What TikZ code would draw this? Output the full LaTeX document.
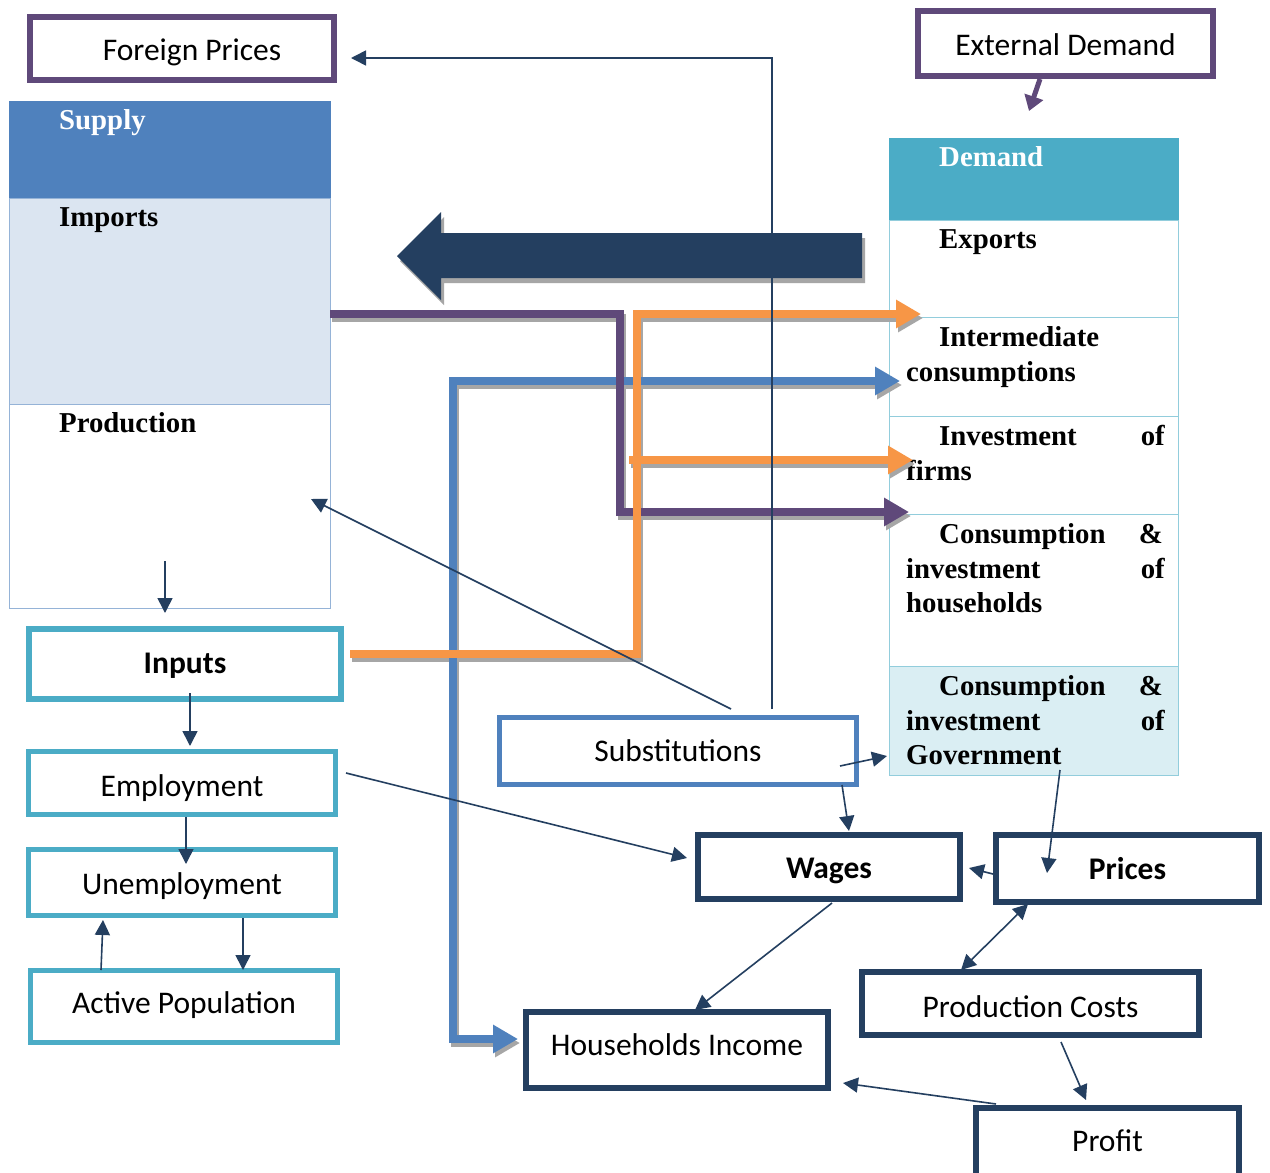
\documentclass[tikz,border=0pt]{standalone}
\usepackage{fontspec}
\setmainfont{Carlito}
\newfontfamily\tnr{Liberation Serif}
\usetikzlibrary{arrows.meta}
\definecolor{purp}{HTML}{5F497A}
\definecolor{supblue}{HTML}{4F81BD}
\definecolor{impfill}{HTML}{DBE5F1}
\definecolor{supline}{HTML}{95B3D7}
\definecolor{demhead}{HTML}{4BACC6}
\definecolor{demline}{HTML}{92CDDC}
\definecolor{govfill}{HTML}{DAEEF3}
\definecolor{teal}{HTML}{4BACC6}
\definecolor{navy}{HTML}{243F60}
\definecolor{orng}{HTML}{F79646}
\definecolor{shad}{HTML}{A6A6A6}
\newcommand\bsl[2]{\raisebox{-#1pt}[0pt][0pt]{#2}}
\begin{document}
\begin{tikzpicture}[x=1pt,y=-1pt,
  cbox/.style={draw, rectangle, inner sep=0pt, fill=white, text=black, font=\fontsize{31.5}{36}\selectfont},
  sect/.style={rectangle, inner sep=0pt, anchor=north west, line width=1.2pt},
  tt/.style={anchor=base west, inner sep=0pt, font=\tnr\bfseries\fontsize{28.8}{32}\selectfont},
  ttr/.style={tt, anchor=base east},
  conn/.style={draw=navy, line width=1.6pt, -{Triangle[length=15pt,width=15pt]}},
  conn2/.style={draw=navy, line width=1.6pt, {Triangle[length=15pt,width=15pt]}-{Triangle[length=15pt,width=15pt]}},
  fat/.style={line width=8pt, -{Triangle[length=25pt,width=27pt]}},
  fat2/.style={line width=8pt, {Triangle[length=25pt,width=27pt]}-{Triangle[length=25pt,width=27pt]}},
  shadow/.style={draw=shad, transform canvas={shift={(2,4)}}}
]
\clip (0,0) rectangle (1270,1173);
\fill[white] (0,0) rectangle (1270,1173);

% ---------- Supply table ----------
\node[sect, fill=supblue, draw=supblue, minimum width=321pt, minimum height=97pt] (supply) at (9,101) {};
\node[sect, fill=impfill, draw=supline, minimum width=321pt, minimum height=206pt] (imports) at (9,198) {};
\node[sect, fill=white, draw=supline, minimum width=321pt, minimum height=204pt] (production) at (9,404) {};
\node[tt, text=white] (tsupply) at (59,129) {Supply};
\node[tt] (timports) at (59,226) {Imports};
\node[tt] (tprod) at (59,432) {Production};

% ---------- Demand table ----------
\node[sect, fill=demhead, draw=demhead, minimum width=289pt, minimum height=82pt] (demand) at (889,138) {};
\node[sect, fill=white, draw=demline, minimum width=289pt, minimum height=97pt] (exports) at (889,220) {};
\node[sect, fill=white, draw=demline, minimum width=289pt, minimum height=99pt] (interm) at (889,317) {};
\node[sect, fill=white, draw=demline, minimum width=289pt, minimum height=98pt] (invest) at (889,416) {};
\node[sect, fill=white, draw=demline, minimum width=289pt, minimum height=152pt] (conshh) at (889,514) {};
\node[sect, fill=govfill, draw=demline, minimum width=289pt, minimum height=109pt] (consgov) at (889,666) {};
\node[tt, text=white] (tdemand) at (939,166) {Demand};
\node[tt] (texports) at (939,248) {Exports};
\node[tt] (ti1) at (939,346) {Intermediate};
\node[tt] (ti2) at (906,381) {consumptions};
\node[tt] (tv1) at (939,445) {Investment};
\node[ttr] (tv1b) at (1165,445) {of};
\node[tt] (tv2) at (906,480) {firms};
\node[tt] (th1) at (939,543) {Consumption};
\node[ttr] (th1b) at (1163,543) {\&};
\node[tt] (th2) at (906,578) {investment};
\node[ttr] (th2b) at (1165,578) {of};
\node[tt] (th3) at (906,612) {households};
\node[tt] (tg1) at (939,695) {Consumption};
\node[ttr] (tg1b) at (1163,695) {\&};
\node[tt] (tg2) at (906,730) {investment};
\node[ttr] (tg2b) at (1165,730) {of};
\node[tt] (tg3) at (906,764) {Government};

% ---------- Boxes ----------
\node[cbox, draw=purp, line width=6pt, minimum width=304pt, minimum height=63pt] (fp) at (182,48.5) {\hspace*{20pt}\bsl{11.5}{Foreign Prices}};
\node[cbox, draw=purp, line width=6pt, minimum width=295pt, minimum height=65pt] (ed) at (1065.5,43.5) {\bsl{11.5}{External Demand}};
\node[cbox, draw=teal, line width=6pt, minimum width=312pt, minimum height=70pt, font=\fontsize{31.5}{36}\selectfont\bfseries] (inputs) at (185,664) {\bsl{9}{Inputs}};
\node[cbox, draw=teal, line width=5pt, minimum width=307pt, minimum height=63pt] (emp) at (182,783) {\bsl{13}{Employment}};
\node[cbox, draw=teal, line width=5pt, minimum width=307pt, minimum height=66pt] (unemp) at (182,882.5) {\bsl{11.5}{Unemployment}};
\node[cbox, draw=teal, line width=5pt, minimum width=307pt, minimum height=72pt] (active) at (184,1006.5) {\bsl{7}{Active Population}};
\node[cbox, draw=supblue, line width=5pt, minimum width=357pt, minimum height=67pt] (subs) at (678,751) {\bsl{10.5}{Substitutions}};
\node[cbox, draw=navy, line width=6pt, minimum width=262pt, minimum height=64pt, font=\fontsize{31.5}{36}\selectfont\bfseries] (wages) at (829,867) {\bsl{11}{Wages}};
\node[cbox, draw=navy, line width=6pt, minimum width=263pt, minimum height=67pt, font=\fontsize{31.5}{36}\selectfont\bfseries] (prices) at (1127.5,868.5) {\bsl{10.5}{Prices}};
\node[cbox, draw=navy, line width=6pt, minimum width=337pt, minimum height=63pt] (pc) at (1030.5,1003.5) {\bsl{13.5}{Production Costs}};
\node[cbox, draw=navy, line width=6pt, minimum width=302pt, minimum height=76pt] (hi) at (677,1050) {\bsl{5}{Households Income}};
\node[cbox, draw=navy, line width=6pt, minimum width=263pt, minimum height=74pt] (profit) at (1107.5,1145) {\bsl{6.5}{Profit}};

% ---------- Coordinates ----------
\coordinate (pu0) at (330,314);
\coordinate (pu1) at (620,314);
\coordinate (pu2) at (620,512);
\coordinate (pu3) at (909,512);
\coordinate (or0) at (350,654);
\coordinate (or1) at (637,654);
\coordinate (or2) at (637,314);
\coordinate (or3) at (921,314);
\coordinate (ob0) at (629,460);
\coordinate (ob1) at (913,460);
\coordinate (bl0) at (900,381);
\coordinate (bl1) at (453,381);
\coordinate (bl2) at (453,1039);
\coordinate (bl3) at (518,1039);
\coordinate (ed0) at (1040,79);
\coordinate (ed1) at (1029,111);

% ---------- Thick arrows (shadows first) ----------
\draw[fat, shadow] (pu0) -- (pu1) -- (pu2) -- (pu3);
\draw[fat, shadow] (or0) -- (or1) -- (or2) -- (or3);
\draw[fat, shadow] (ob0) -- (ob1);
\draw[fat2, shadow] (bl0) -- (bl1) -- (bl2) -- (bl3);
\draw[fat2, draw=supblue] (bl0) -- (bl1) -- (bl2) -- (bl3);
\draw[fat, draw=purp] (pu0) -- (pu1) -- (pu2) -- (pu3);
\draw[fat, draw=orng] (or0) -- (or1) -- (or2) -- (or3);
\draw[fat, draw=orng] (ob0) -- (ob1);
\draw[draw=purp, line width=5pt, -{Triangle[length=15pt,width=19pt]}] (ed0) -- (ed1);

% ---------- Big arrow ----------
\fill[shad, transform canvas={shift={(3,5)}}] (862,233) -- (441,233) -- (441,212) -- (397,256) -- (441,300) -- (441,278) -- (862,278) -- cycle;
\fill[navy] (862,233) -- (441,233) -- (441,212) -- (397,256) -- (441,300) -- (441,278) -- (862,278) -- cycle;

% ---------- Thin connectors ----------
\coordinate (s0) at (772,709);
\coordinate (s1) at (772,58);
\coordinate (fpin) at (351,58);
\coordinate (s2) at (731,709);
\coordinate (prodin) at (311,499);
\coordinate (pr0) at (165,561);
\coordinate (pr1) at (165,613);
\coordinate (in0) at (190,693);
\coordinate (in1) at (190,746);
\coordinate (em0) at (186,817);
\coordinate (em1) at (186,864);
\coordinate (ac0) at (101,970);
\coordinate (ac1) at (103,920);
\coordinate (un0) at (243,918);
\coordinate (un1) at (243,970);
\coordinate (em2) at (346,773);
\coordinate (wg0) at (687,858);
\coordinate (sb0) at (840,766);
\coordinate (gv0) at (887,756);
\coordinate (sb1) at (842,785);
\coordinate (wg1) at (849,831);
\coordinate (prc0) at (993,874);
\coordinate (wg2) at (969,868);
\coordinate (gv1) at (1060,770);
\coordinate (prc1) at (1047,873);
\coordinate (prc2) at (1028,904);
\coordinate (pcs0) at (961,970);
\coordinate (wg3) at (832,903);
\coordinate (hi0) at (695,1010);
\coordinate (pcs1) at (1061,1042);
\coordinate (pf0) at (1086,1100);
\coordinate (pf1) at (996,1104);
\coordinate (hi1) at (843,1083);

\draw[conn] (s0) -- (s1) -- (fpin);
\draw[conn] (s2) -- (prodin);
\draw[conn] (pr0) -- (pr1);
\draw[conn] (in0) -- (in1);
\draw[conn] (em0) -- (em1);
\draw[conn] (ac0) -- (ac1);
\draw[conn] (un0) -- (un1);
\draw[conn] (em2) -- (wg0);
\draw[conn] (sb0) -- (gv0);
\draw[conn] (sb1) -- (wg1);
\draw[conn] (prc0) -- (wg2);
\draw[conn] (gv1) -- (prc1);
\draw[conn2] (prc2) -- (pcs0);
\draw[conn] (wg3) -- (hi0);
\draw[conn] (pcs1) -- (pf0);
\draw[conn] (pf1) -- (hi1);
\end{tikzpicture}
\end{document}
